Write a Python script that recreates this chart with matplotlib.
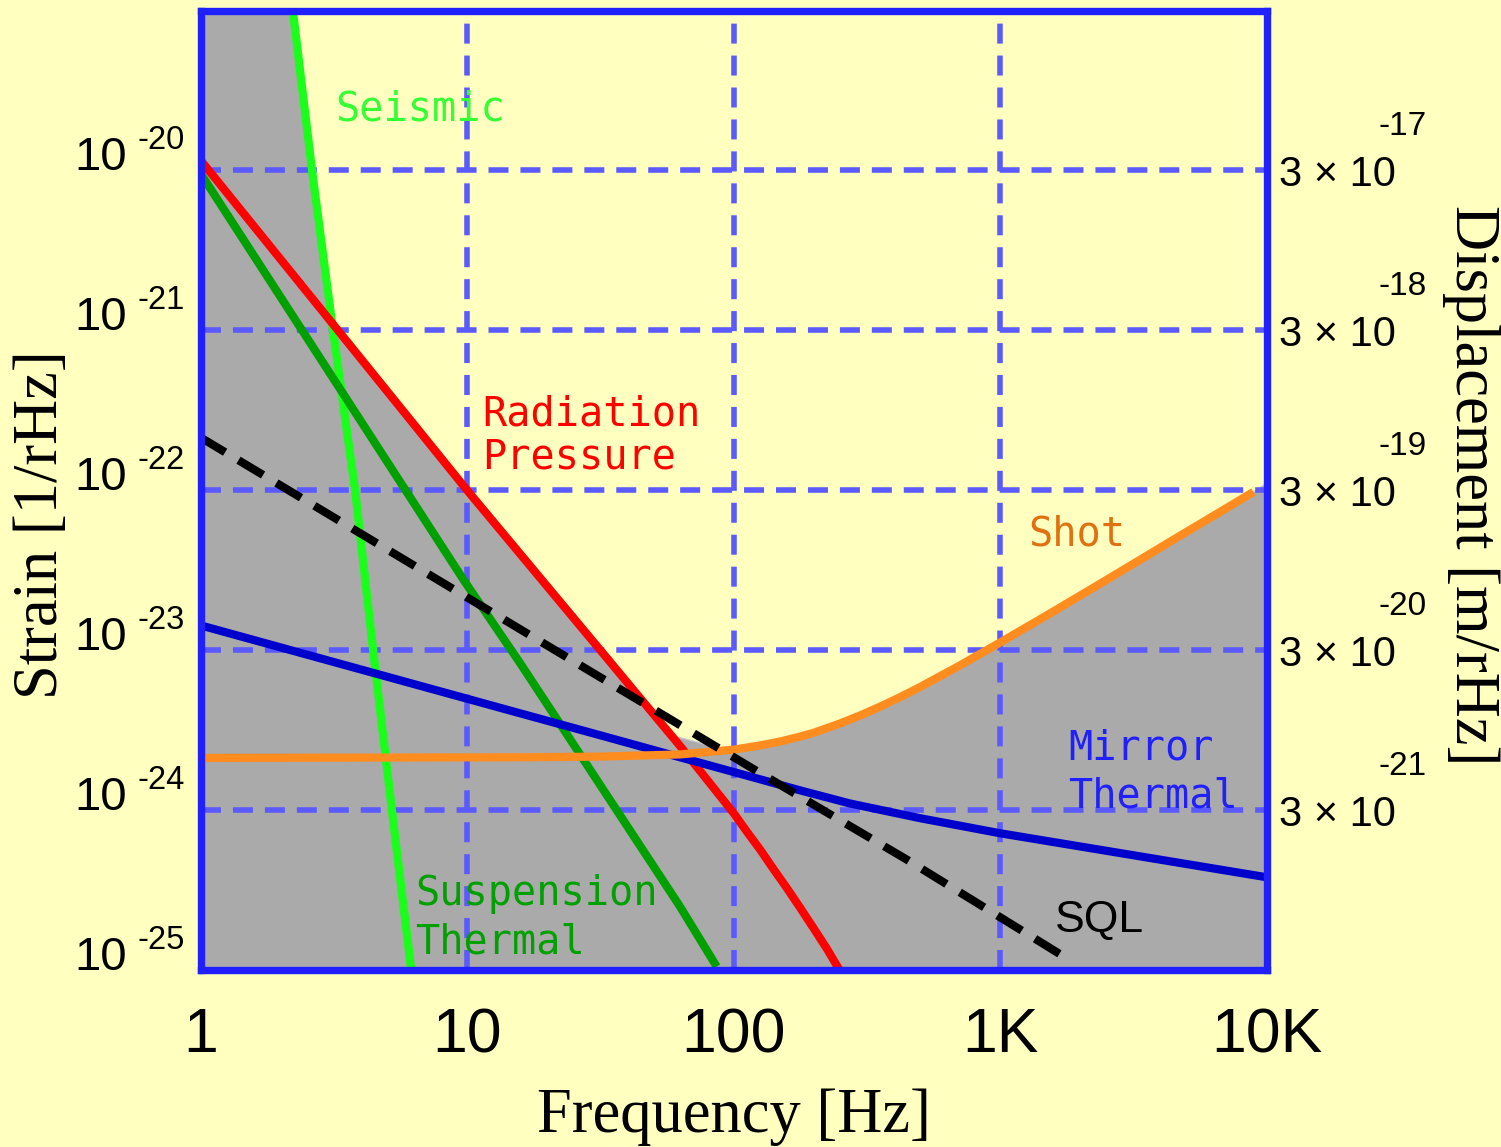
import numpy as np
import matplotlib.pyplot as plt
from matplotlib.ticker import NullLocator

# Courbes de bruit : frequence [Hz] -> strain [1/rHz]
seismic_freq = [2.22, 2.62, 3.14, 3.80, 4.44, 5.22, 6.17]
seismic_strain = [1e-19, 1e-20, 1e-21, 1e-22, 1e-23, 1e-24, 1e-25]

susp_freq = [1, 9.7, 15.8, 62.8, 86.3]
susp_strain = [9.6e-21, 2.75e-23, 8.3e-24, 2.5e-25, 1.05e-25]

rad_freq = [1, 10, 31.6, 50, 63, 79.4, 100, 112, 126, 141, 158.5, 178, 199.5, 224, 251]
rad_strain = [1.16e-20, 1.0e-22, 1.0e-23, 3.98e-24, 2.51e-24, 1.55e-24, 9.55e-25, 7.33e-25,
              5.62e-25, 4.27e-25, 3.24e-25, 2.43e-25, 1.82e-25, 1.35e-25, 9.8e-26]

mirror_freq = [1, 15.8, 31.5, 62.8, 100, 180, 273, 500, 1000, 10000]
mirror_strain = [1.43e-23, 4.03e-24, 2.94e-24, 2.14e-24, 1.73e-24, 1.32e-24, 1.10e-24,
                 8.9e-25, 7.16e-25, 3.8e-25]

shot_freq = [1, 15.8, 31.5, 63, 100, 126, 150, 177, 200, 250, 298, 350, 421, 500, 700,
             1000, 1500, 2234, 3300, 4720, 6500, 8890]
shot_strain = [2.12e-24, 2.14e-24, 2.16e-24, 2.23e-24, 2.39e-24, 2.54e-24, 2.69e-24, 2.88e-24,
               3.05e-24, 3.48e-24, 3.91e-24, 4.40e-24, 5.09e-24, 5.89e-24, 7.98e-24,
               1.12e-23, 1.66e-23, 2.46e-23, 3.63e-23, 5.20e-23, 7.14e-23, 9.77e-23]

sql_freq = [1, 35.6, 129, 446, 1750]
sql_strain = [2.14e-22, 6.0e-24, 1.66e-24, 4.9e-25, 1.2e-25]

# Enveloppe du bruit total (zone grise)
total_freq = [1, 2.18, 2.62, 3.12, 10, 31.6, 56.2, 85, 100, 126, 150, 177, 200, 250, 298, 350,
              421, 500, 700, 1000, 1500, 2234, 3300, 4720, 6500, 8890, 10000]
total_strain = [1e-19, 1e-19, 1e-20, 1.15e-21, 1e-22, 1e-23, 3.0e-24, 2.5e-24, 2.41e-24,
                2.56e-24, 2.71e-24, 2.9e-24, 3.08e-24, 3.51e-24, 3.95e-24, 4.44e-24, 5.14e-24,
                5.95e-24, 8.06e-24, 1.13e-23, 1.68e-23, 2.48e-23, 3.67e-23, 5.25e-23, 7.21e-23,
                9.87e-23, 1.12e-22]

# Graduations
freq_ticks = [1, 10, 100, 1000, 10000]
freq_labels = ["1", "10", "100", "1K", "10K"]
strain_exp = [-20, -21, -22, -23, -24, -25]
disp_exp = [-17, -18, -19, -20, -21]

plt.rcParams['font.family'] = 'Liberation Sans'
bg = '#FFFFC0'

fig = plt.figure(figsize=(15.01, 11.47), dpi=100, facecolor=bg)
ax = fig.add_axes([0.1336, 0.1543, 0.7105, 0.8365])
ax.set_facecolor(bg)
ax.set_xscale('log')
ax.set_yscale('log')
ax.set_xlim(1, 1e4)
ax.set_ylim(1e-25, 1e-19)

ax.fill_between(total_freq, 1e-26, total_strain, facecolor='#AAAAAA',
                edgecolor='#C8C8C8', linewidth=1, zorder=1)

lw = 5.9
ax.plot(seismic_freq, seismic_strain, color='#1AFF1A', lw=lw, solid_capstyle='butt')
ax.plot(susp_freq, susp_strain, color='#00A000', lw=lw, solid_capstyle='butt')
ax.plot(rad_freq, rad_strain, color='#FF0000', lw=lw, solid_capstyle='butt')
ax.plot(mirror_freq, mirror_strain, color='#0000CC', lw=lw, solid_capstyle='butt')
ax.plot(shot_freq, shot_strain, color='#FF8C1E', lw=lw, solid_capstyle='butt')
ax.plot(sql_freq, sql_strain, color='black', lw=lw, linestyle=(0, (3.5, 1.9)))

ax.grid(True, which='major', color='#5A5AFF', linewidth=4, linestyle=(0, (3.6, 2.15)))

for sp in ax.spines.values():
    sp.set_color('#2020FF')
    sp.set_linewidth(5.3)

# axe des x
ax.set_xticks(freq_ticks, freq_labels)
ax.xaxis.set_minor_locator(NullLocator())
ax.yaxis.set_minor_locator(NullLocator())
ax.tick_params(axis='both', which='both', length=0)
ax.tick_params(axis='x', labelsize=45, pad=26)

# axe de gauche : 10^n
strain_ticks = [10.0 ** e for e in strain_exp]
ax.set_yticks(strain_ticks, ['10'] * len(strain_ticks))
ax.tick_params(axis='y', labelsize=34, pad=53)
for lab in ax.get_yticklabels():
    lab.set_verticalalignment('baseline')
for e, t in zip(strain_exp, strain_ticks):
    ax.annotate(f"{e}", xy=(0, t), xycoords=ax.get_yaxis_transform(),
                xytext=(-45.7, 15.1), textcoords='offset points',
                fontsize=23.5, ha='left', va='baseline', annotation_clip=False)

# axe de droite : deplacement
ax2 = ax.twinx()
ax2.set_yscale('log')
ax2.set_ylim(ax.get_ylim())
disp_ticks = strain_ticks[:len(disp_exp)]
ax2.set_yticks(disp_ticks, ['3 × 10'] * len(disp_ticks))
ax2.yaxis.set_minor_locator(NullLocator())
ax2.tick_params(axis='y', which='both', length=0, labelsize=30, pad=9)
for sp in ax2.spines.values():
    sp.set_visible(False)
for e, t in zip(disp_exp, disp_ticks):
    ax2.annotate(f"{e}", xy=(1, t), xycoords=ax2.get_yaxis_transform(),
                 xytext=(80, 25.2), textcoords='offset points',
                 fontsize=24, ha='left', va='baseline', annotation_clip=False)

# titres des axes
ax.set_xlabel("Frequency [Hz]", fontfamily='Liberation Serif', fontsize=45, va='center')
ax.xaxis.set_label_coords(0.5, -0.1532)
ax.set_ylabel("Strain [1/rHz]", fontfamily='Liberation Serif', fontsize=45, va='center')
ax.yaxis.set_label_coords(-0.1486, 0.4638)
ax2.set_ylabel("Displacement [m/rHz]", fontfamily='Liberation Serif', fontsize=45,
               rotation=270, va='center')
ax2.yaxis.set_label_coords(1.1913, 0.5055)

# etiquettes des courbes
kw = dict(transform=ax.transAxes, fontfamily='DejaVu Sans Mono', fontsize=29,
          ha='left', va='baseline')
ax.text(0.1261, 0.8859, "Seismic", color='#33FF33', **kw)
ax.text(0.2640, 0.5680, "Radiation", color='#FF0000', **kw)
ax.text(0.2640, 0.5232, "Pressure", color='#FF0000', **kw)
ax.text(0.7759, 0.4429, "Shot", color='#E07010', **kw)
ax.text(0.8134, 0.2199, "Mirror", color='#2020FF', **kw)
ax.text(0.8134, 0.1699, "Thermal", color='#2020FF', **kw)
ax.text(0.2011, 0.0677, "Suspension", color='#00A000', **kw)
ax.text(0.2011, 0.0177, "Thermal", color='#00A000', **kw)
ax.text(0.8012, 0.0396, "SQL", transform=ax.transAxes, color='black', fontsize=32,
        fontfamily=['Liberation Sans Narrow', 'Liberation Sans'], ha='left', va='baseline')

fig.savefig('out.png', dpi=100, facecolor=bg)
